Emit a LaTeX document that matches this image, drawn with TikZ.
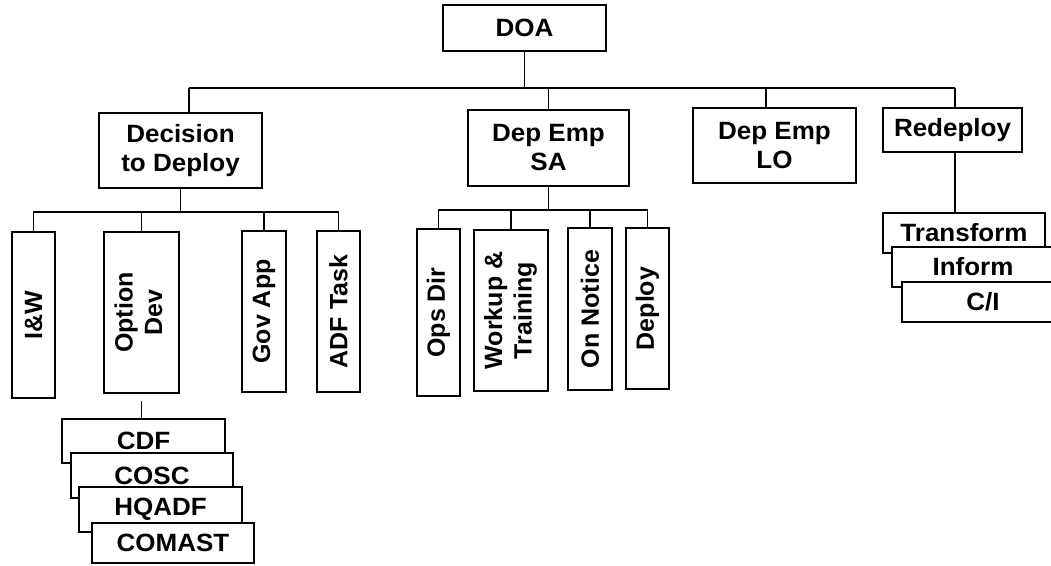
\documentclass[tikz,border=0pt]{standalone}
\usepackage{fontspec}
\setmainfont{Liberation Sans}
\newfontfamily\widefont[FakeStretch=1.04]{Liberation Sans}
\begin{document}
\begin{tikzpicture}[x=1pt,y=-1pt,
  box/.style={draw, line width=1.4pt, fill=white, inner sep=0pt,
    font=\widefont\fontsize{25}{29}\selectfont\bfseries, align=center},
  vbox/.style={box, font=\fontsize{25}{29.5}\selectfont\bfseries},
  conn/.style={line width=1.4pt}]
\useasboundingbox (0,0) rectangle (1051,565);
% top level
\node[box, minimum width=163pt, minimum height=46pt] (doa) at (524.5,28) {DOA};
\node[box, minimum width=163pt, minimum height=75pt] (dec) at (180.5,150.5) {Decision\\to Deploy};
\node[box, minimum width=161pt, minimum height=76pt] (sa) at (548.5,148) {Dep Emp\\SA};
\node[box, minimum width=163pt, minimum height=75pt] (lo) at (774.5,145.5) {Dep Emp\\LO};
\node[box, minimum width=139pt, minimum height=44pt] (red) at (952.5,130) {Redeploy};
\coordinate (busL) at (189,88);
\coordinate (busR) at (955,88);
\coordinate (loTop) at (766,88);
\draw[conn] (doa.south) -- (doa.south |- busL);
\draw[conn] (busL) -- (busR);
\draw[conn] (busL) -- (busL |- dec.north);
\draw[conn] (sa.north) -- (sa.north |- busL);
\draw[conn] (loTop) -- (loTop |- lo.north);
\draw[conn] (busR) -- (busR |- red.north);
% decision children
\node[vbox, minimum width=43pt, minimum height=166pt] (iw) at (33.5,315) {\rotatebox{90}{I\&W}};
\node[vbox, minimum width=75pt, minimum height=161pt] (od) at (141.5,312.5) {\rotatebox{90}{\begin{tabular}{@{}c@{}}Option\\Dev\end{tabular}}};
\node[vbox, minimum width=44pt, minimum height=161pt] (gov) at (264,311.5) {\rotatebox{90}{Gov App}};
\node[vbox, minimum width=43pt, minimum height=161pt] (adf) at (338.5,311.5) {\rotatebox{90}{ADF Task}};
\coordinate (dbus) at (0,212);
\draw[conn] (dec.south) -- (dec.south |- dbus);
\draw[conn] (iw.north) |- (dbus -| adf.north) -- (adf.north);
\draw[conn] (od.north) -- (od.north |- dbus);
\draw[conn] (gov.north) -- (gov.north |- dbus);
% SA children
\node[vbox, minimum width=43pt, minimum height=167pt] (ops) at (438.5,312.5) {\rotatebox{90}{Ops Dir}};
\node[vbox, minimum width=74pt, minimum height=161pt] (wt) at (511,310.5) {\rotatebox{90}{\begin{tabular}{@{}c@{}}Workup \&\\Training\end{tabular}}};
\node[vbox, minimum width=44pt, minimum height=162pt] (on) at (590,309) {\rotatebox{90}{On Notice}};
\node[vbox, minimum width=43pt, minimum height=161pt] (dep) at (647.5,308.5) {\rotatebox{90}{Deploy}};
\coordinate (sbus) at (0,210);
\draw[conn] (sa.south) -- (sa.south |- sbus);
\draw[conn] (ops.north) |- (sbus -| dep.north) -- (dep.north);
\draw[conn] (wt.north) -- (wt.north |- sbus);
\draw[conn] (on.north) -- (on.north |- sbus);
% option dev stack
\node[box, minimum width=163pt, minimum height=44pt] (cdf) at (143.5,441) {CDF};
\node[box, minimum width=162pt, minimum height=45pt] (cosc) at (152,475.5) {COSC};
\node[box, minimum width=163pt, minimum height=45pt] (hq) at (160.5,509.5) {HQADF};
\node[box, minimum width=162pt, minimum height=40pt] (com) at (173,543) {COMAST};
\draw[conn, shorten <=7pt] (od.south) -- (od.south |- cdf.north);
% redeploy stack
\node[box, minimum width=162pt, minimum height=40pt] (tr) at (964,233) {Transform};
\node[box, minimum width=162pt, minimum height=40pt] (inf) at (973,267) {Inform};
\node[box, minimum width=162pt, minimum height=40pt] (ci) at (983,302) {C/I};
\draw[conn] (red.south -| busR) -- (tr.north -| busR);
\end{tikzpicture}
\end{document}
